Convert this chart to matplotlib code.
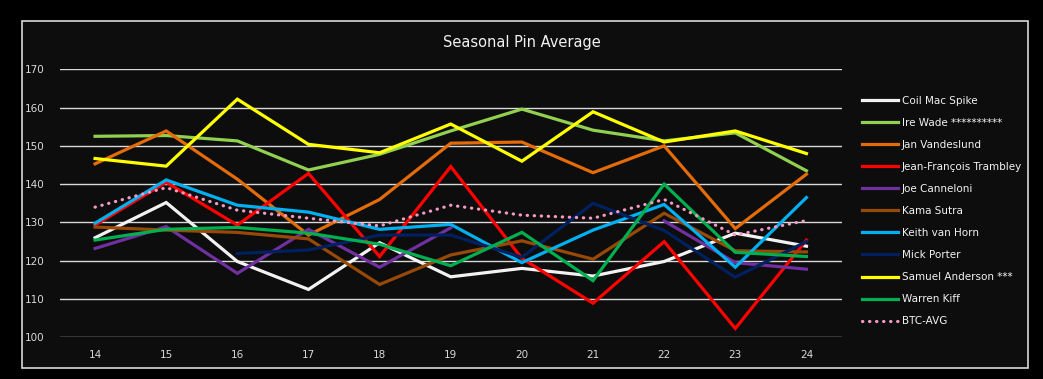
import numpy as np
import matplotlib.pyplot as plt
from matplotlib.patches import Rectangle

seasons = [14, 15, 16, 17, 18, 19, 20, 21, 22, 23, 24]
nan = np.nan

coil_mac_spike = [126.0, 135.2, 119.8, 112.5, 124.7, 115.8, 118.0, 116.0, 119.8, 127.2, 123.8]
ire_wade = [152.5, 152.7, 151.3, 143.7, 147.8, 153.9, 159.6, 154.1, 151.3, 153.4, 143.5]
jan_vandeslund = [145.3, 153.9, 141.3, 126.7, 136.0, 150.7, 151.0, 143.0, 150.0, 128.4, 142.6]
jean_francois = [129.3, 140.5, 129.3, 142.8, 121.1, 144.6, 120.6, 108.9, 125.0, 102.3, 125.4]
joe_canneloni = [123.2, 128.9, 116.7, 128.2, 118.3, 128.6, nan, nan, 130.4, 119.5, 117.8]
kama_sutra = [128.8, 128.0, 127.4, 125.7, 113.8, 121.5, 125.2, 120.4, 132.4, 122.6, 122.3]
keith_van_horn = [129.8, 141.1, 134.5, 132.7, 128.2, 129.5, 119.5, 128.0, 134.7, 118.3, 136.5]
mick_porter = [nan, nan, 121.9, 122.8, 126.7, 126.7, 120.9, 135.0, 127.9, 115.7, 125.0]
samuel_anderson = [146.7, 144.7, 162.2, 150.4, 148.2, 155.7, 146.0, 158.9, 151.0, 153.9, 148.0]
warren_kiff = [125.4, 128.2, 128.7, 127.2, 124.3, 118.7, 127.4, 114.8, 140.0, 122.2, 121.1]
btc_avg = [134.0, 139.1, 133.2, 131.1, 129.1, 134.5, 131.9, 131.1, 136.0, 126.7, 130.5]

series = [
    ('Coil Mac Spike', coil_mac_spike, '#f2f2f2'),
    ('Ire Wade **********', ire_wade, '#92d050'),
    ('Jan Vandeslund', jan_vandeslund, '#e36c09'),
    ('Jean-François Trambley', jean_francois, '#ff0000'),
    ('Joe Canneloni', joe_canneloni, '#7030a0'),
    ('Kama Sutra', kama_sutra, '#984807'),
    ('Keith van Horn', keith_van_horn, '#00b0f0'),
    ('Mick Porter', mick_porter, '#002060'),
    ('Samuel Anderson ***', samuel_anderson, '#ffff00'),
    ('Warren Kiff', warren_kiff, '#00b050'),
]

W, H = 1043, 379
fig = plt.figure(figsize=(W / 100, H / 100), dpi=100)
fig.patch.set_facecolor('black')

# inner chart area box, drawn behind the axes
fig.patches.append(Rectangle((22 / W, 1 - 368 / H), (1028 - 22) / W, (368 - 21) / H,
                             transform=fig.transFigure, facecolor='#0d0d0d',
                             edgecolor='#d9d9d9', linewidth=1.2, zorder=-5))

ax = fig.add_axes([59.5 / W, 1 - 337.3 / H, (842 - 59.5) / W, (337.3 - 69.3) / H])
ax.set_zorder(2)
ax.set_facecolor('none')

for name, vals, col in series:
    ax.plot(seasons, vals, color=col, lw=2.3, label=name, solid_joinstyle='miter')
ax.plot(seasons, btc_avg, color='#f49ac1', lw=2.3, linestyle=(0, (0.1, 2.1)),
        dash_capstyle='round', label='BTC-AVG')

ax.set_xlim(13.5, 24.5)
ax.set_ylim(100, 170)
ax.set_xticks(seasons)
ax.set_yticks(range(100, 171, 10))
ax.grid(axis='y', color='#d9d9d9', lw=1)
ax.set_axisbelow(True)
for s in ax.spines.values():
    s.set_visible(False)
ax.tick_params(length=0, colors='#d9d9d9', labelsize=7.5)
ax.tick_params(axis='y', pad=11)
ax.tick_params(axis='x', pad=9)

fig.text(0.5, 1 - 43 / H, 'Seasonal Pin Average', color='#f2f2f2', fontsize=10.5,
         ha='center', va='center')

leg = ax.legend(loc='upper left', bbox_to_anchor=(862 / W, 1 - 95.5 / H),
                bbox_transform=fig.transFigure, frameon=False, fontsize=7.5,
                handlelength=3.5, handletextpad=0.3, labelspacing=1.16,
                borderaxespad=0, borderpad=0)
for t in leg.get_texts():
    t.set_color('#f2f2f2')

fig.savefig('out.png', dpi=100, facecolor=fig.get_facecolor())
